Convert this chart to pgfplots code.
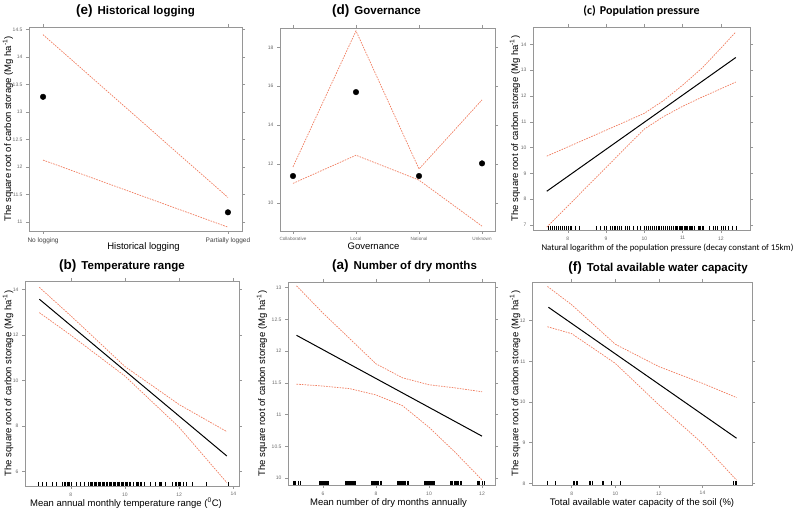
\documentclass[border=0pt]{standalone}
\usepackage{fontspec}
\setmainfont{Liberation Sans}
\newfontfamily\calib{Carlito}
\usepackage{pgfplots}
\pgfplotsset{compat=1.18}

\definecolor{ci}{RGB}{240,125,95}
\definecolor{frm}{RGB}{150,150,150}
\definecolor{tlab}{RGB}{105,105,105}

\newcommand\ttl[2]{{\fontsize{13.5}{14}\selectfont\bfseries(#1)}\hspace{5pt}{\fontsize{11.5}{14}\selectfont\bfseries #2}}
\newcommand\ylab{The square root of carbon storage (Mg ha\textsuperscript{-1})}

\pgfplotsset{
  every axis title shift=0pt,
  panel/.style={
    scale only axis, anchor=south west,
    axis line style={frm, line width=0.5pt},
    tick align=outside, major tick length=3pt,
    xtick pos=both, ytick pos=both,
    xticklabel pos=lower, yticklabel pos=left,
    every tick/.style={frm, line width=0.5pt},
    ticklabel style={font=\fontsize{5}{6}\selectfont, text=tlab},
    /pgf/number format/assume math mode=true,
    xlabel style={font=\fontsize{9.5}{11}\selectfont, at={(axis description cs:0.5,0)}, anchor=base, yshift=-18.5pt},
    ylabel style={font=\fontsize{9.5}{11}\selectfont, anchor=center},
    title style={at={(axis description cs:0.5,1)}, anchor=base, yshift=12pt},
    clip=false,
  },
  lowrow/.style={xlabel style={yshift=-2pt}},
  fitline/.style={black, line width=1pt},
  cil/.style={ci, line width=0.7pt, dash pattern=on 1.6pt off 1.1pt},
  rug/.style={only marks, mark=|, mark size=2pt, mark options={black, line width=0.4pt, yshift=2.2pt}},
  pt/.style={only marks, mark=*, mark size=2.8pt, black},
}

\begin{document}
\begin{tikzpicture}
\useasboundingbox (0pt,0pt) rectangle (800pt,513pt);

% (e) Historical logging
\begin{axis}[panel, at={(29pt,282pt)}, width=213pt, height=204pt,
  xmin=-0.076, xmax=1.076, ymin=10.84, ymax=14.55,
  xtick={0,1}, xticklabels={No logging, Partially logged},
  xticklabel style={font=\fontsize{6.5}{7}\selectfont, text=black!75},
  ytick={11,11.5,...,14.5},
  xlabel={Historical logging}, xlabel style={xshift=8pt},
  ylabel={\ylab}, ylabel style={at={(axis description cs:-0.099,0.5)}},
  title={\ttl{e}{Historical logging}}]
\addplot[cil] coordinates {(0,14.41)(1,11.45)};
\addplot[cil] coordinates {(0,12.13)(1,10.91)};
\addplot[pt] coordinates {(0,13.28)(1,11.18)};
\end{axis}

% (d) Governance
\begin{axis}[panel, at={(280pt,282pt)}, width=215pt, height=203pt,
  xmin=-0.206, xmax=3.206, ymin=8.55, ymax=19.0,
  xtick={0,1,2,3}, xticklabels={Collaborative, Local, National, Unknown},
  xticklabel style={font=\fontsize{4.6}{5}\selectfont},
  ytick={10,12,...,18},
  xlabel={Governance}, xlabel style={xshift=-14pt},
  title={\ttl{d}{Governance}}, title style={xshift=-11pt, yshift=1pt}]
\addplot[cil] coordinates {(0,11.85)(1,18.85)(2,11.74)(3,15.3)};
\addplot[cil] coordinates {(0,11.0)(1,12.45)(2,11.17)(3,8.8)};
\addplot[pt] coordinates {(0,11.38)(1,15.7)(2,11.38)(3,12.03)};
\end{axis}

% (c) Population pressure
\begin{axis}[panel, at={(533pt,283pt)}, width=217pt, height=203pt,
  xmin=7.09, xmax=12.76, ymin=6.81, ymax=14.67,
  xtick={8,9,10,11,12}, ytick={7,8,...,14},
  xlabel={\calib Natural logarithm of the population pressure (decay constant of 15km)},
  xlabel style={xshift=26pt, yshift=-2pt, font=\fontsize{8.8}{11}\selectfont},
  ylabel={\ylab}, ylabel style={at={(axis description cs:-0.083,0.5)}},
  title={\calib\fontsize{12}{14}\selectfont\bfseries (c)\hspace{4pt}Population pressure}]
\addplot[cil] coordinates {(7.45,9.67)(8.5,10.35)(9.5,11.0)(10,11.33)(10.5,11.82)(11,12.42)(11.5,13.07)(12,13.85)(12.39,14.48)};
\addplot[cil] coordinates {(7.45,6.92)(8,7.74)(9,9.23)(9.5,9.98)(10,10.72)(10.5,11.2)(11,11.6)(11.5,11.95)(12,12.28)(12.39,12.54)};
\addplot[fitline] coordinates {(7.45,8.31)(12.39,13.49)};
\addplot[rug] coordinates {(7.5,6.81)(7.55,6.81)(7.6,6.81)(7.65,6.81)(7.7,6.81)(7.75,6.81)(7.8,6.81)(7.85,6.81)(7.9,6.81)(7.95,6.81)(8.0,6.81)(8.05,6.81)(8.1,6.81)(8.2,6.81)(8.3,6.81)
(8.75,6.81)(8.85,6.81)(8.95,6.81)(9.0,6.81)(9.1,6.81)(9.15,6.81)(9.2,6.81)(9.25,6.81)(9.3,6.81)(9.35,6.81)(9.4,6.81)(9.5,6.81)(9.55,6.81)(9.6,6.81)(9.7,6.81)(9.8,6.81)(9.9,6.81)
(10.0,6.81)(10.05,6.81)(10.1,6.81)(10.15,6.81)(10.2,6.81)(10.25,6.81)(10.3,6.81)(10.35,6.81)(10.4,6.81)(10.45,6.81)(10.5,6.81)(10.55,6.81)(10.6,6.81)(10.65,6.81)(10.7,6.81)(10.75,6.81)
(10.8,6.81)(10.83,6.81)(10.86,6.81)(10.9,6.81)(10.93,6.81)(10.96,6.81)(11.0,6.81)(11.03,6.81)(11.06,6.81)(11.1,6.81)(11.13,6.81)(11.16,6.81)(11.2,6.81)(11.23,6.81)(11.26,6.81)(11.3,6.81)
(11.4,6.81)(11.43,6.81)(11.46,6.81)(11.5,6.81)(11.53,6.81)(11.7,6.81)(11.8,6.81)(11.85,6.81)(11.9,6.81)(12.0,6.81)(12.05,6.81)(12.1,6.81)(12.2,6.81)(12.3,6.81)(12.4,6.81)};
\end{axis}

% (b) Temperature range
\begin{axis}[panel, lowrow, at={(25pt,27pt)}, width=214pt, height=205pt,
  xmin=6.31, xmax=14.21, ymin=5.37, ymax=14.38,
  xtick={8,10,12,14}, ytick={6,8,...,14},
  xlabel={Mean annual monthly temperature range (\textsuperscript{0}C)}, xlabel style={xshift=-6pt},
  ylabel={\ylab}, ylabel style={at={(axis description cs:-0.079,0.5)}},
  title={\ttl{b}{Temperature range}}, title style={xshift=-10pt, yshift=-1pt}]
\addplot[cil] coordinates {(6.84,14.1)(8,12.85)(10,10.62)(12,8.95)(13.76,7.76)};
\addplot[cil] coordinates {(6.84,12.99)(8,12.0)(10,10.2)(12,7.95)(13.76,5.52)};
\addplot[fitline] coordinates {(6.84,13.58)(13.76,6.69)};
\addplot[rug] coordinates {(6.8,5.37)(6.95,5.37)(7.1,5.37)(7.3,5.37)(7.45,5.37)(7.7,5.37)(7.75,5.37)(7.8,5.37)(7.85,5.37)(7.9,5.37)(7.95,5.37)(8.0,5.37)
(8.2,5.37)(8.35,5.37)(8.5,5.37)(8.65,5.37)(8.7,5.37)(8.75,5.37)(8.8,5.37)(8.85,5.37)(8.9,5.37)(8.95,5.37)(9.0,5.37)(9.05,5.37)(9.1,5.37)(9.15,5.37)(9.2,5.37)(9.25,5.37)
(9.3,5.37)(9.35,5.37)(9.4,5.37)(9.45,5.37)(9.5,5.37)(9.55,5.37)(9.6,5.37)(9.65,5.37)(9.7,5.37)(9.75,5.37)(9.8,5.37)(9.85,5.37)(9.9,5.37)(9.95,5.37)(10.0,5.37)(10.05,5.37)
(10.1,5.37)(10.15,5.37)(10.2,5.37)(10.3,5.37)(10.4,5.37)(10.45,5.37)(10.5,5.37)(10.55,5.37)(10.6,5.37)(10.7,5.37)(10.95,5.37)(11.1,5.37)(11.25,5.37)(11.3,5.37)(11.35,5.37)
(11.5,5.37)(11.75,5.37)(11.85,5.37)(11.9,5.37)(11.95,5.37)(12.0,5.37)(12.05,5.37)(12.15,5.37)(12.25,5.37)(12.5,5.37)(13.0,5.37)(13.8,5.37)};
\end{axis}

% (a) Number of dry months
\begin{axis}[panel, lowrow, at={(288pt,28pt)}, width=207pt, height=203pt,
  xmin=4.68, xmax=12.49, ymin=9.89, ymax=13.09,
  xtick={6,8,10,12}, ytick={10,10.5,...,13},
  xlabel={Mean number of dry months annually}, xlabel style={xshift=-3pt},
  ylabel={\ylab}, ylabel style={at={(axis description cs:-0.126,0.5)}},
  title={\ttl{a}{Number of dry months}}, title style={xshift=13pt}]
\addplot[cil] coordinates {(5,13.03)(6,12.6)(7,12.2)(8,11.8)(9,11.58)(10,11.47)(11,11.42)(12,11.36)};
\addplot[cil] coordinates {(5,11.48)(6,11.45)(7,11.41)(8,11.31)(9,11.14)(10,10.8)(11,10.4)(12,9.97)};
\addplot[fitline] coordinates {(5,12.25)(12,10.66)};
\addplot[rug] coordinates {(4.88,9.89)(4.91,9.89)(4.94,9.89)(5.05,9.89)(5.15,9.89)
(5.85,9.89)(5.88,9.89)(5.92,9.89)(5.96,9.89)(6.0,9.89)(6.04,9.89)(6.08,9.89)(6.12,9.89)(6.16,9.89)(6.2,9.89)
(6.82,9.89)(6.86,9.89)(6.9,9.89)(6.94,9.89)(6.98,9.89)(7.02,9.89)(7.06,9.89)(7.1,9.89)(7.14,9.89)(7.18,9.89)(7.22,9.89)
(7.82,9.89)(7.86,9.89)(7.9,9.89)(7.94,9.89)(7.98,9.89)(8.02,9.89)(8.06,9.89)(8.1,9.89)(8.14,9.89)(8.18,9.89)(8.2,9.89)
(8.8,9.89)(8.84,9.89)(8.88,9.89)(8.92,9.89)(8.96,9.89)(9.0,9.89)(9.04,9.89)(9.08,9.89)(9.12,9.89)(9.16,9.89)(9.2,9.89)
(9.8,9.89)(9.84,9.89)(9.88,9.89)(9.92,9.89)(9.96,9.89)(10.0,9.89)(10.04,9.89)(10.08,9.89)(10.12,9.89)(10.16,9.89)(10.2,9.89)
(10.8,9.89)(10.84,9.89)(10.88,9.89)(10.94,9.89)(10.98,9.89)(11.02,9.89)(11.06,9.89)(11.12,9.89)(11.16,9.89)(11.2,9.89)
(11.8,9.89)(11.84,9.89)(11.9,9.89)(12.0,9.89)(12.1,9.89)};
\end{axis}

% (f) Total available water capacity
\begin{axis}[panel, lowrow, at={(532pt,28pt)}, width=220pt, height=203pt,
  xmin=6.18, xmax=16.27, ymin=7.96, ymax=12.95,
  xtick={8,10,12,14}, ytick={8,9,...,12},
  xlabel={Total available water capacity of the soil (\%)},
  ylabel={\ylab}, ylabel style={at={(axis description cs:-0.077,0.5)}},
  title={\ttl{f}{Total available water capacity}}, title style={xshift=16pt, yshift=-2pt}]
\addplot[cil] coordinates {(6.89,12.84)(8,12.39)(10,11.42)(12,10.87)(14,10.46)(15.56,10.11)};
\addplot[cil] coordinates {(6.89,11.85)(8,11.68)(10,10.95)(12,9.93)(14,8.98)(15.56,8.08)};
\addplot[fitline] coordinates {(6.93,12.33)(15.56,9.11)};
\addplot[rug] coordinates {(6.89,7.96)(7.24,7.96)(8.05,7.96)(8.12,7.96)(8.2,7.96)(8.23,7.96)(8.8,7.96)(8.86,7.96)(8.93,7.96)(8.96,7.96)
(9.4,7.96)(9.42,7.96)(9.44,7.96)(9.82,7.96)(10.24,7.96)(15.43,7.96)(15.5,7.96)(15.56,7.96)};
\end{axis}
\end{tikzpicture}
\end{document}
